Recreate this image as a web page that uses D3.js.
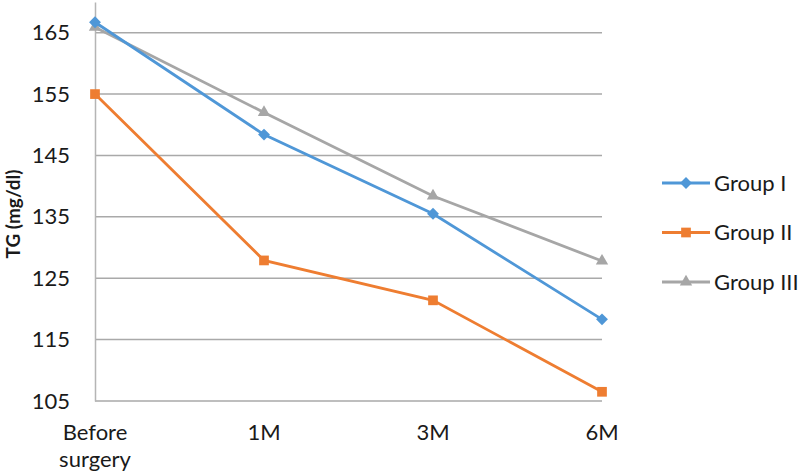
<!DOCTYPE html>
<html>
<head>
<meta charset="utf-8">
<script src="https://cdn.jsdelivr.net/npm/d3@7"></script>
<style>
  body { margin: 0; background: #fff; }
  text { font-family: Lato, "Open Sans", sans-serif; fill: #1a1a1a; }
</style>
</head>
<body>
<div id="chart"></div>
<script>
// chart data
let categories = ["Before surgery", "1M", "3M", "6M"];
let groupI = [166.7, 148.4, 135.5, 118.3];
let groupII = [155.0, 127.9, 121.4, 106.5];
let groupIII = [165.9, 152.0, 138.4, 127.8];
let yTicks = [105, 115, 125, 135, 145, 155, 165];
let seriesNames = ["Group I", "Group II", "Group III"];

let svgWidth = 800;
let svgHeight = 476;

let margin = { top: 2, right: 198, bottom: 75, left: 95 };
let width = svgWidth - margin.left - margin.right;
let height = svgHeight - margin.top - margin.bottom;

let svg = d3.select("#chart")
  .append("svg")
  .attr("width", svgWidth)
  .attr("height", svgHeight);

let chartGroup = svg.append("g")
  .attr("transform", `translate(${margin.left}, ${margin.top})`);

// scales
let xScale = d3.scalePoint()
  .domain(categories)
  .range([0, width]);

let yScale = d3.scaleLinear()
  .domain([105, 170])
  .range([height, 0]);

// gridlines
chartGroup.append("g")
  .selectAll("line")
  .data(yTicks)
  .enter()
  .append("line")
  .attr("x1", 0)
  .attr("x2", width)
  .attr("y1", d => yScale(d))
  .attr("y2", d => yScale(d))
  .attr("stroke", "#a9a9a9")
  .attr("stroke-width", 1.5);

// y axis
let leftAxis = d3.axisLeft(yScale).tickValues(yTicks).tickSize(0).tickPadding(25);
let yAxisG = chartGroup.append("g").call(leftAxis);
yAxisG.select(".domain").attr("stroke", "#b5b5b5").attr("stroke-width", 1.5);
yAxisG.selectAll("text")
  .style("font-family", "Lato, sans-serif")
  .style("font-size", "22px")
  .attr("fill", "#1a1a1a");

// x axis labels
let xLabels = chartGroup.append("g")
  .selectAll("text")
  .data(categories)
  .enter()
  .append("text")
  .attr("x", d => xScale(d))
  .attr("y", height + 39)
  .attr("text-anchor", "middle")
  .style("font-size", "22px");

xLabels.each(function(d) {
  let words = d.split(" ");
  let t = d3.select(this);
  words.forEach((w, i) => {
    t.append("tspan")
      .attr("x", xScale(d))
      .attr("dy", i === 0 ? 0 : 27)
      .text(w);
  });
});

// y axis title
svg.append("text")
  .attr("transform", "rotate(-90)")
  .attr("x", -214)
  .attr("y", 20)
  .attr("text-anchor", "middle")
  .style("font-size", "19px")
  .style("font-weight", "bold")
  .text("TG (mg/dl)");

// series
let seriesData = [
  { name: seriesNames[0], values: groupI, color: "#4f97d7", symbol: d3.symbolDiamond2, size: 90 },
  { name: seriesNames[1], values: groupII, color: "#ee7d31", symbol: d3.symbolSquare2, size: 120 },
  { name: seriesNames[2], values: groupIII, color: "#a6a6a6", symbol: d3.symbolTriangle2, size: 110 }
];

let line = d3.line()
  .x((d, i) => xScale(categories[i]))
  .y(d => yScale(d));

// draw in reverse so Group I sits on top
seriesData.slice().reverse().forEach(function(s) {
  chartGroup.append("path")
    .datum(s.values)
    .attr("fill", "none")
    .attr("stroke", s.color)
    .attr("stroke-width", 2.8)
    .attr("d", line);

  chartGroup.selectAll(null)
    .data(s.values)
    .enter()
    .append("path")
    .attr("d", d3.symbol().type(s.symbol).size(s.size))
    .attr("transform", (d, i) => `translate(${xScale(categories[i])}, ${yScale(d)})`)
    .attr("fill", s.color);
});

// legend
let legend = svg.append("g")
  .attr("transform", "translate(662, 183)");

let legendItems = legend.selectAll("g")
  .data(seriesData)
  .enter()
  .append("g")
  .attr("transform", (d, i) => `translate(0, ${i * 49.5})`);

legendItems.append("line")
  .attr("x1", 0)
  .attr("x2", 48)
  .attr("stroke", d => d.color)
  .attr("stroke-width", 2.8);

legendItems.append("path")
  .attr("d", d => d3.symbol().type(d.symbol).size(d.size)())
  .attr("transform", "translate(24, 0)")
  .attr("fill", d => d.color);

legendItems.append("text")
  .attr("x", 52)
  .attr("y", 0)
  .attr("dy", "0.35em")
  .style("font-size", "22px")
  .text(d => d.name);
</script>
</body>
</html>
